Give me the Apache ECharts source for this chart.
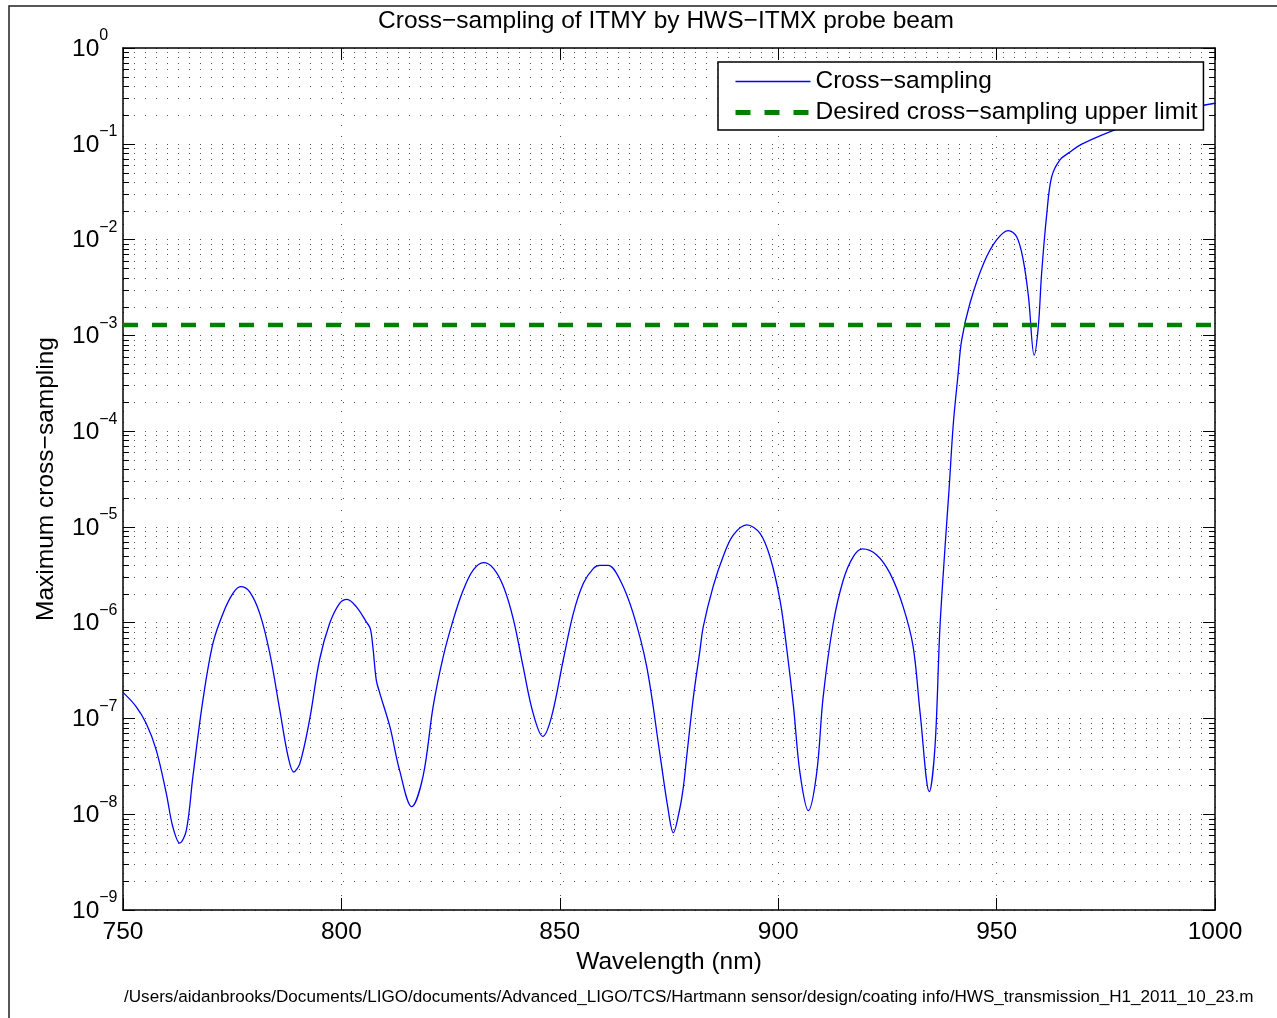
<!DOCTYPE html>
<html><head><meta charset="utf-8">
<script src="https://cdn.jsdelivr.net/npm/echarts@6/dist/echarts.min.js"></script>
<style>html,body{margin:0;padding:0;background:#fff}#c{width:1277px;height:1018px}</style>
</head><body><div id="c"></div>
<script>
// ---- data ----
const wavelength = [750.0,753.0,755.3,757.6,759.9,761.4,763.0,764.5,766.0,768.3,770.6,772.9,775.2,776.9,779.0,781.3,783.6,785.9,787.8,789.1,790.5,792.7,795.0,797.3,799.6,801.3,803.4,805.7,806.6,807.2,808.0,808.8,811.1,813.3,816.1,818.7,821.0,823.3,825.6,827.9,830.2,832.5,834.8,837.1,839.4,841.6,843.9,846.1,848.1,850.8,853.1,855.4,857.7,859.2,861.1,863.8,866.8,869.9,872.9,874.7,876.0,877.4,878.3,879.05,880.6,882.1,882.85,885.1,887.4,889.7,892.8,895.8,898.1,900.4,901.9,903.5,905.0,906.9,908.8,910.3,912.6,914.9,917.2,919.3,922.55,925.6,928.6,930.9,932.5,934.6,935.9,937.0,938.2,939.1,940.1,941.2,942.0,943.9,947.0,950.0,952.7,954.6,956.1,957.3,958.6,959.55,960.3,961.5,962.6,964.5,966.8,969.5,977.5,985.0,992.0,997.7,1000.0];
const crossSampling = [1.87e-7,1.33e-7,8.9e-8,4.7e-8,1.66e-8,7.4e-9,5.0e-9,6.8e-9,2.47e-8,1.56e-7,6.1e-7,1.25e-6,2.03e-6,2.38e-6,2.1e-6,1.25e-6,4.8e-7,1.22e-7,4.0e-8,2.76e-8,3.4e-8,9.6e-8,4.1e-7,9.8e-7,1.59e-6,1.75e-6,1.47e-6,1.02e-6,8.7e-7,5.6e-7,2.5e-7,1.83e-7,8.2e-8,2.9e-8,1.2e-8,2.5e-8,1.33e-7,4.4e-7,1.07e-6,2.19e-6,3.55e-6,4.23e-6,3.69e-6,2.38e-6,1.07e-6,3.47e-7,1.13e-7,6.5e-8,1.04e-7,4.1e-7,1.25e-6,2.58e-6,3.69e-6,3.97e-6,3.97e-6,2.79e-6,1.25e-6,3.47e-7,4.3e-8,1.2e-8,6.4e-9,1.1e-8,1.94e-8,4.0e-8,1.69e-7,5.2e-7,9.1e-7,2.38e-6,4.9e-6,8.2e-6,1.05e-5,8.6e-6,4.9e-6,1.73e-6,5.6e-7,1.33e-7,2.67e-8,1.09e-8,2.67e-8,1.69e-7,9.8e-7,2.79e-6,4.9e-6,5.9e-6,5.1e-6,3.27e-6,1.47e-6,5.6e-7,1.13e-7,1.72e-8,5.1e-8,8.4e-7,6.2e-6,2.4e-5,1.21e-4,4.0e-4,8.9e-4,2.16e-3,5.6e-3,9.9e-3,1.24e-2,1.07e-2,6.1e-3,2.53e-3,6.2e-4,1.23e-3,4.4e-3,1.88e-2,4.5e-2,6.8e-2,8.2e-2,9.9e-2,1.42e-1,1.85e-1,2.2e-1,2.54e-1,2.65e-1];
const limitLevel = 1.28e-3;
const xRange = [750, 1000];
const yRange = [1e-9, 1];
const decadeExponents = [-9,-8,-7,-6,-5,-4,-3,-2,-1];
const minorMultipliers = [2,3,4,5,6,7,8,9];
const seriesNames = ['Cross\u2212sampling', 'Desired cross\u2212sampling upper limit'];
const titleText = 'Cross\u2212sampling of ITMY by HWS\u2212ITMX probe beam';
const xName = 'Wavelength (nm)';
const yName = 'Maximum cross\u2212sampling';
const pathText = '/Users/aidanbrooks/Documents/LIGO/documents/Advanced_LIGO/TCS/Hartmann sensor/design/coating info/HWS_transmission_H1_2011_10_23.m';

// ---- build ----
const FONT = '"Liberation Sans", Arial, Helvetica, sans-serif';
const FS = 24.5;
const lineData = wavelength.map((w, i) => [w, crossSampling[i]]);
const limitData = xRange.map(w => [w, limitLevel]);
const minorData = [];
decadeExponents.forEach(e => minorMultipliers.forEach(m => minorData.push([xRange[0], m * Math.pow(10, e)])));

const chart = echarts.init(document.getElementById('c'), null, {renderer: 'canvas'});
const gridDot = {color: '#555', width: 1, type: [1, 10]};
const crisp = v => Math.round(v) + 0.5;
const blueStyle = {color: '#0000ff', width: 1.3};
const greenStyle = {color: '#008000', width: 4.5, type: [15, 14]};

chart.setOption({
  animation: false,
  backgroundColor: '#fff',
  textStyle: {fontFamily: FONT},
  grid: {left: 123, right: 62, top: 48, bottom: 108, containLabel: false},
  legend: {
    data: [
      {name: seriesNames[0], lineStyle: {color: '#0000ff', width: 1.3, type: 'solid'}},
      {name: seriesNames[1], lineStyle: {color: '#008000', width: 5, type: [15, 14]}}
    ],
    orient: 'vertical',
    left: 718, top: 62,
    itemWidth: 75, itemHeight: 14, itemGap: 6,
    padding: [7, 6, 5, 15],
    borderColor: '#000', borderWidth: 1.5, borderRadius: 0,
    backgroundColor: '#fff',
    itemStyle: {opacity: 0},
    textStyle: {fontSize: FS, color: '#000', fontFamily: FONT},
    selectedMode: false
  },
  xAxis: [{
    type: 'value', min: xRange[0], max: xRange[1], interval: 50,
    name: xName, nameLocation: 'middle', nameGap: 39,
    nameTextStyle: {fontSize: FS, color: '#000', fontFamily: FONT},
    axisLine: {show: true, onZero: false, lineStyle: {color: '#000', width: 1.5}},
    axisTick: {show: true, inside: true, length: 12, lineStyle: {color: '#000', width: 1}},
    axisLabel: {fontSize: FS, color: '#000', margin: 10, fontFamily: FONT, formatter: v => String(v)},
    splitLine: {show: true, lineStyle: gridDot}
  }, {
    type: 'value', min: xRange[0], max: xRange[1], interval: 50, position: 'top',
    axisLine: {show: true, onZero: false, lineStyle: {color: '#000', width: 1.5}},
    axisTick: {show: true, inside: true, length: 12, lineStyle: {color: '#000', width: 1}},
    axisLabel: {show: false}, splitLine: {show: false}
  }],
  yAxis: [{
    type: 'log', logBase: 10, min: yRange[0], max: yRange[1], splitNumber: 9,
    name: yName, nameLocation: 'middle', nameGap: 64, nameRotate: 90,
    nameTextStyle: {fontSize: FS, color: '#000', fontFamily: FONT},
    axisLine: {show: true, onZero: false, lineStyle: {color: '#000', width: 1.5}},
    axisTick: {show: true, inside: true, length: 12, lineStyle: {color: '#000', width: 1}},
    axisLabel: {
      align: 'left', margin: 51,
      formatter: v => {
        const e = Math.round(Math.log10(v));
        const s = e < 0 ? '\u2212' + (-e) : '' + e;
        return '{b|10}{e|' + s + '}';
      },
      rich: {
        b: {fontSize: FS, lineHeight: FS, color: '#000', fontFamily: FONT, padding: [2, 0, 0, 0]},
        e: {fontSize: 16, lineHeight: 16, color: '#000', fontFamily: FONT, padding: [0, 0, 24, 0]}
      }
    },
    splitLine: {show: true, lineStyle: gridDot}
  }, {
    type: 'log', logBase: 10, min: yRange[0], max: yRange[1], splitNumber: 9, position: 'right',
    axisLine: {show: true, onZero: false, lineStyle: {color: '#000', width: 1.5}},
    axisTick: {show: true, inside: true, length: 12, lineStyle: {color: '#000', width: 1}},
    axisLabel: {show: false}, splitLine: {show: false}
  }],
  series: [{
    type: 'custom', name: 'minor', silent: true, z: 1,
    xAxisIndex: 0, yAxisIndex: 0, clip: false,
    data: minorData,
    renderItem: (params, api) => {
      const v = api.value(1);
      const p0 = api.coord([xRange[0], v]);
      const p1 = api.coord([xRange[1], v]);
      const y = crisp(p0[1]);
      return {type: 'group', children: [
        {type: 'line', shape: {x1: p0[0], y1: y, x2: p1[0], y2: y}, style: {stroke: '#555', lineWidth: 1, lineDash: [1, 10]}},
        {type: 'line', shape: {x1: p0[0], y1: y, x2: p0[0] + 6, y2: y}, style: {stroke: '#000', lineWidth: 1}},
        {type: 'line', shape: {x1: p1[0] - 6, y1: y, x2: p1[0], y2: y}, style: {stroke: '#000', lineWidth: 1}}
      ]};
    }
  }, {
    type: 'line', name: seriesNames[0], data: lineData,
    symbol: 'none', smooth: 0.35, z: 3,
    lineStyle: blueStyle,
    itemStyle: {color: '#0000ff'},
    emphasis: {disabled: true}
  }, {
    type: 'line', name: seriesNames[1], data: limitData,
    symbol: 'none', z: 3,
    lineStyle: greenStyle,
    itemStyle: {color: '#008000'},
    emphasis: {disabled: true}
  }],
  graphic: [
    {type: 'rect', shape: {x: 9, y: 6, width: 1300, height: 1100},
     style: {fill: null, stroke: '#222', lineWidth: 1.5}, silent: true, z: 100},
    {type: 'text', x: 666, y: 21.5, style: {text: titleText, font: FS + 'px ' + FONT, fill: '#000', textAlign: 'center', textVerticalAlign: 'middle'}, silent: true},
    {type: 'text', x: 124, y: 997, style: {text: pathText, font: '17.1px ' + FONT, fill: '#000', textAlign: 'left', textVerticalAlign: 'middle'}, silent: true}
  ]
});
</script>
</body></html>
